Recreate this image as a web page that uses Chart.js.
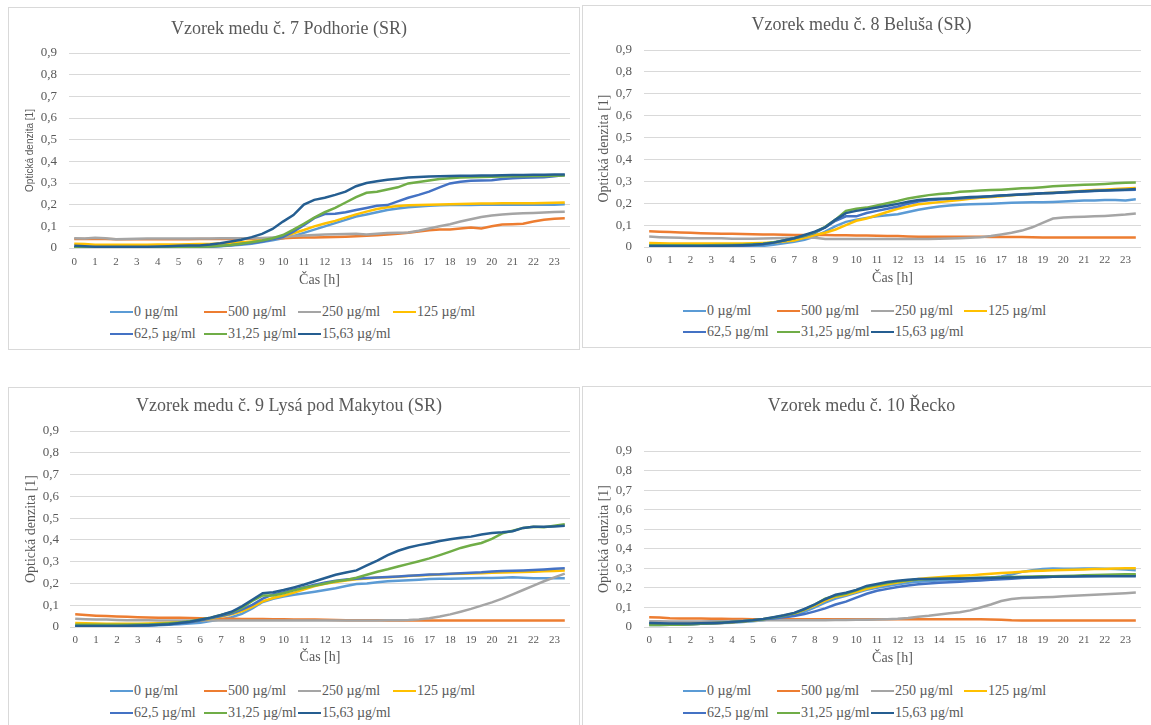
<!DOCTYPE html>
<html>
<head>
<meta charset="utf-8">
<script src="https://cdn.jsdelivr.net/npm/chart.js@4.4.1/dist/chart.umd.min.js"></script>
<style>
  body { margin: 0; background: #fff; width: 1151px; height: 725px; overflow: hidden; position: relative; font-family: "Liberation Serif", serif; }
  .box { position: absolute; border: 1px solid #d9d9d9; box-sizing: border-box; }
  canvas { position: absolute; }
  .lg { position: absolute; height: 16px; font-size: 14px; line-height: 16px; color: #595959; white-space: nowrap; }
  .lg i { position: absolute; left: 0; top: 7px; width: 23px; height: 2px; }
  .lg span { position: absolute; left: 24px; top: 0; }
</style>
</head>
<body>
<script>
// half-hourly readings, 0 .. 23.5 h
const hours = [0, 0.5, 1, 1.5, 2, 2.5, 3, 3.5, 4, 4.5, 5, 5.5, 6, 6.5, 7, 7.5,
  8, 8.5, 9, 9.5, 10, 10.5, 11, 11.5, 12, 12.5, 13, 13.5, 14, 14.5, 15, 15.5,
  16, 16.5, 17, 17.5, 18, 18.5, 19, 19.5, 20, 20.5, 21, 21.5, 22, 22.5, 23, 23.5];

const seriesNames = ["0 µg/ml", "500 µg/ml", "250 µg/ml", "125 µg/ml", "62,5 µg/ml", "31,25 µg/ml", "15,63 µg/ml"];
const seriesColors = ["#5B9BD5", "#ED7D31", "#A5A5A5", "#FFC000", "#4472C4", "#70AD47", "#255E91"];

// --- Vzorek 7 Podhorie
const med7_0 = [.005,.005,.004,.004,.004,.004,.004,.004, .004,.004,.004,.005,.005,.006,.008,.011,
  .015,.02,.028,.036,.045,.055,.07,.085, .1,.115,.13,.145,.155,.165,.175,.182,
  .188,.192,.195,.197,.198,.199,.199,.2, .2,.2,.2,.2,.2,.201,.2,.202];
const med7_500 = [.042,.042,.042,.041,.04,.04,.04,.04, .04,.04,.04,.04,.041,.041,.042,.042,
  .043,.043,.044,.045,.045,.047,.048,.048, .05,.051,.052,.054,.056,.059,.062,.066,
  .07,.076,.082,.085,.085,.09,.095,.09, .1,.108,.11,.112,.122,.13,.135,.137];
const med7_250 = [.045,.044,.047,.045,.04,.041,.043,.044, .044,.044,.044,.044,.044,.044,.045,.045,
  .045,.045,.046,.048,.05,.055,.058,.06, .062,.063,.065,.066,.062,.066,.069,.07,
  .072,.08,.09,.1,.11,.122,.133,.143, .15,.155,.158,.16,.162,.164,.166,.167];
const med7_125 = [.02,.018,.015,.015,.015,.015,.015,.015, .016,.016,.016,.017,.018,.019,.021,.023,
  .026,.03,.035,.042,.052,.068,.083,.1, .113,.125,.14,.155,.168,.18,.188,.194,
  .197,.199,.2,.201,.202,.203,.204,.205, .205,.206,.206,.207,.207,.208,.209,.21];
const med7_62 = [.004,.004,.004,.004,.004,.004,.004,.004, .004,.004,.005,.005,.006,.007,.009,.013,
  .018,.023,.03,.04,.05,.075,.105,.138, .157,.158,.165,.175,.185,.195,.198,.215,
  .232,.245,.26,.28,.298,.306,.31,.311, .313,.318,.322,.324,.325,.327,.331,.337];
const med7_31 = [.003,.003,.003,.003,.003,.003,.003,.003, .004,.004,.005,.005,.006,.007,.01,.014,
  .02,.027,.035,.045,.06,.085,.112,.14, .165,.185,.21,.235,.255,.26,.27,.28,
  .298,.305,.312,.318,.322,.325,.327,.328, .329,.33,.331,.331,.332,.332,.333,.335];
const med7_15 = [.01,.008,.006,.006,.006,.006,.006,.006, .007,.008,.01,.011,.012,.016,.022,.03,
  .038,.05,.065,.088,.122,.152,.2,.222, .232,.245,.26,.285,.3,.308,.315,.32,
  .325,.328,.33,.331,.332,.333,.334,.335, .335,.336,.337,.337,.338,.338,.339,.339];

// --- Vzorek 8 Beluša
const med8_0 = [.003,.003,.003,.003,.003,.003,.003,.003, .003,.003,.004,.005,.01,.017,.024,.033,
  .048,.07,.095,.115,.125,.133,.14,.145, .15,.16,.17,.178,.185,.19,.193,.195,
  .196,.198,.2,.202,.203,.204,.205,.206, .208,.21,.212,.213,.215,.215,.213,.218];
const med8_500 = [.072,.07,.068,.066,.065,.063,.062,.061, .06,.059,.058,.057,.057,.056,.055,.055,
  .055,.055,.054,.054,.053,.052,.051,.05, .05,.048,.047,.047,.047,.047,.047,.047,
  .047,.046,.046,.046,.046,.045,.043,.043, .043,.043,.043,.043,.043,.043,.043,.043];
const med8_250 = [.048,.045,.043,.042,.04,.04,.04,.04, .038,.038,.038,.039,.04,.041,.042,.042,
  .042,.037,.036,.036,.036,.036,.036,.036, .037,.037,.037,.037,.038,.039,.04,.042,
  .045,.05,.057,.065,.075,.09,.11,.13, .135,.137,.138,.14,.142,.145,.148,.153];
const med8_125 = [.018,.017,.016,.016,.016,.016,.016,.016, .016,.016,.017,.018,.02,.025,.03,.042,
  .055,.065,.08,.1,.12,.13,.145,.16, .175,.185,.195,.2,.205,.21,.215,.22,
  .225,.228,.232,.236,.24,.242,.245,.248, .25,.254,.257,.26,.262,.265,.267,.27];
const med8_62 = [.004,.004,.004,.004,.004,.004,.004,.005, .005,.006,.008,.012,.02,.03,.04,.05,
  .065,.09,.12,.14,.14,.155,.165,.175, .185,.198,.208,.213,.217,.22,.222,.225,
  .228,.232,.235,.238,.241,.243,.245,.247, .249,.251,.254,.256,.258,.259,.26,.262];
const med8_31 = [.008,.008,.008,.008,.008,.008,.008,.009, .009,.01,.012,.015,.022,.03,.04,.052,
  .068,.092,.125,.165,.175,.18,.19,.2, .21,.222,.23,.237,.242,.245,.252,.255,
  .258,.26,.262,.265,.268,.27,.273,.277, .28,.282,.284,.286,.288,.291,.293,.295];
const med8_15 = [.005,.005,.005,.005,.005,.005,.006,.006, .007,.008,.01,.014,.02,.03,.04,.055,
  .07,.09,.125,.155,.165,.172,.18,.188, .197,.207,.215,.218,.22,.222,.225,.228,
  .23,.232,.235,.237,.24,.242,.245,.247, .25,.252,.255,.257,.258,.26,.262,.265];

// --- Vzorek 9 Lysá pod Makytou
const med9_0 = [.005,.005,.005,.005,.005,.005,.005,.006, .008,.01,.013,.016,.02,.027,.035,.045,
  .06,.085,.115,.13,.14,.148,.155,.162, .17,.178,.188,.197,.2,.205,.21,.212,
  .215,.217,.22,.221,.222,.223,.224,.225, .225,.226,.228,.226,.224,.224,.224,.224];
const med9_500 = [.058,.055,.052,.05,.048,.047,.045,.044, .043,.043,.042,.041,.04,.039,.038,.038,
  .037,.037,.037,.036,.036,.035,.035,.035, .033,.032,.031,.031,.031,.031,.03,.03,
  .03,.03,.03,.03,.03,.03,.03,.03, .03,.03,.03,.03,.03,.03,.03,.03];
const med9_250 = [.038,.036,.035,.034,.032,.031,.031,.031, .03,.03,.03,.03,.03,.03,.03,.03,
  .03,.03,.03,.03,.03,.03,.03,.03, .03,.03,.03,.03,.03,.03,.031,.031,
  .032,.035,.04,.048,.058,.07,.083,.098, .113,.13,.15,.17,.19,.21,.228,.245];
const med9_125 = [.018,.017,.016,.015,.015,.015,.015,.016, .017,.019,.021,.024,.03,.038,.048,.058,
  .072,.092,.118,.133,.145,.158,.173,.188, .198,.207,.213,.219,.223,.227,.229,.231,
  .234,.237,.239,.241,.243,.244,.246,.247, .249,.25,.251,.252,.254,.256,.257,.26];
const med9_62 = [.005,.005,.005,.005,.005,.006,.007,.008, .01,.013,.017,.022,.03,.04,.05,.062,
  .08,.102,.13,.15,.16,.172,.183,.194, .204,.212,.218,.222,.225,.227,.23,.232,
  .235,.238,.241,.242,.245,.247,.249,.251, .255,.257,.258,.26,.262,.264,.267,.27];
const med9_31 = [.01,.01,.01,.01,.01,.01,.011,.012, .014,.017,.021,.026,.034,.043,.055,.068,
  .088,.12,.145,.145,.155,.168,.18,.19, .2,.21,.216,.226,.24,.254,.265,.278,
  .29,.302,.315,.33,.346,.363,.375,.386, .405,.43,.442,.455,.46,.458,.465,.472];
const med9_15 = [.005,.005,.005,.005,.005,.006,.007,.008, .01,.013,.018,.024,.033,.043,.055,.07,
  .095,.125,.155,.16,.17,.182,.195,.21, .225,.24,.25,.26,.283,.305,.33,.35,
  .365,.376,.385,.395,.403,.41,.415,.425, .432,.435,.44,.455,.46,.46,.462,.465];

// --- Vzorek 10 Řecko
const med10_0 = [.01,.01,.011,.012,.014,.016,.018,.02, .022,.026,.03,.035,.042,.05,.06,.078,
  .1,.125,.145,.16,.175,.19,.2,.21, .218,.226,.232,.235,.238,.24,.242,.245,
  .248,.252,.258,.268,.282,.29,.296,.299, .298,.298,.299,.299,.298,.296,.294,.29];
const med10_500 = [.05,.048,.045,.044,.043,.043,.042,.042, .041,.041,.04,.04,.04,.04,.04,.04,
  .04,.04,.04,.04,.04,.04,.04,.04, .04,.04,.04,.04,.039,.039,.039,.039,
  .039,.038,.037,.034,.033,.033,.033,.033, .033,.033,.033,.033,.033,.033,.033,.033];
const med10_250 = [.03,.029,.028,.028,.028,.028,.029,.03, .031,.032,.033,.034,.035,.035,.035,.035,
  .035,.035,.036,.036,.037,.037,.038,.04, .042,.046,.052,.057,.064,.07,.075,.085,
  .1,.115,.133,.143,.148,.15,.152,.154, .157,.16,.162,.165,.168,.17,.173,.177];
const med10_125 = [.015,.014,.014,.014,.015,.017,.019,.021, .024,.028,.033,.04,.048,.057,.068,.088,
  .11,.135,.155,.165,.18,.195,.208,.218, .228,.237,.245,.25,.255,.258,.262,.264,
  .268,.272,.276,.279,.283,.286,.288,.29, .292,.293,.294,.296,.297,.299,.3,.3];
const med10_62 = [.018,.015,.013,.013,.014,.016,.018,.021, .025,.03,.035,.039,.044,.05,.056,.066,
  .08,.095,.115,.13,.15,.17,.185,.195, .204,.212,.218,.222,.226,.229,.232,.235,
  .238,.241,.244,.247,.25,.253,.255,.257, .258,.259,.26,.261,.262,.262,.263,.263];
const med10_31 = [.01,.01,.011,.012,.014,.016,.019,.022, .025,.029,.034,.04,.049,.058,.07,.09,
  .115,.145,.16,.17,.188,.205,.215,.225, .233,.238,.243,.245,.247,.248,.249,.25,
  .252,.253,.255,.256,.257,.258,.259,.26, .261,.262,.264,.266,.267,.268,.27,.27];
const med10_15 = [.02,.019,.018,.018,.018,.019,.02,.022, .025,.029,.034,.041,.05,.06,.072,.092,
  .116,.142,.165,.175,.19,.21,.22,.23, .237,.242,.245,.246,.247,.248,.248,.249,
  .25,.251,.252,.253,.254,.255,.256,.257, .258,.258,.259,.259,.26,.26,.26,.26];

const TEXT = "#595959";
const SERIF = "'Liberation Serif', 'Times New Roman', serif";

const panels = [
  { title: "Vzorek medu č. 7 Podhorie (SR)", series: [med7_0, med7_500, med7_250, med7_125, med7_62, med7_31, med7_15],
    box: [8, 7, 572, 343], x: 8, y: 7, w: 572, h: 285, yW: 61, yPad: 12, tTop: 11.2, tBot: 13.2, xPad: 7.4, xtPad: 3.6,
    yFont: { family: "'Liberation Sans', Arial, sans-serif", size: 10 }, ytPad: 16,
    cols: [110, 204, 298, 393], rows: [312, 334] },
  { title: "Vzorek medu č. 8 Beluša (SR)", series: [med8_0, med8_500, med8_250, med8_125, med8_62, med8_31, med8_15],
    box: [582, 5, 580, 343], x: 582, y: 5, w: 569, h: 286, yW: 62, yPad: 12, tTop: 9.2, tBot: 14.2, xPad: 6.4, xtPad: 4.6,
    yFont: { family: SERIF, size: 14 }, ytPad: 13.6,
    cols: [683, 777, 871, 964], rows: [311, 332] },
  { title: "Vzorek medu č. 9 Lysá pod Makytou (SR)", series: [med9_0, med9_500, med9_250, med9_125, med9_62, med9_31, med9_15],
    box: [8, 387, 572, 400], x: 8, y: 387, w: 572, h: 284, yW: 62, yPad: 11, tTop: 8.2, tBot: 14.2, xPad: 6.4, xtPad: 5.6,
    yFont: { family: SERIF, size: 14 }, ytPad: 14.6,
    cols: [110, 204, 298, 393], rows: [691, 713] },
  { title: "Vzorek medu č. 10 Řecko", series: [med10_0, med10_500, med10_250, med10_125, med10_62, med10_31, med10_15],
    box: [582, 386, 580, 400], x: 582, y: 386, w: 569, h: 285, yW: 62, yPad: 12, tTop: 9.2, tBot: 34.2, xPad: 6.4, xtPad: 4.6,
    yFont: { family: SERIF, size: 14 }, ytPad: 13.6,
    cols: [683, 777, 871, 964], rows: [691, 713] },
];

function addLegend(p) {
  seriesNames.forEach((name, i) => {
    const el = document.createElement("div");
    el.className = "lg";
    el.style.left = p.cols[i % 4] + "px";
    el.style.top = (p.rows[Math.floor(i / 4)] - 8) + "px";
    el.innerHTML = '<i style="background:' + seriesColors[i] + '"></i><span>' + name + "</span>";
    document.body.appendChild(el);
  });
}

function makeChart(p) {
  const box = document.createElement("div");
  box.className = "box";
  box.style.left = p.box[0] + "px";
  box.style.top = p.box[1] + "px";
  box.style.width = p.box[2] + "px";
  box.style.height = p.box[3] + "px";
  document.body.appendChild(box);

  const canvas = document.createElement("canvas");
  canvas.width = p.w;
  canvas.height = p.h;
  canvas.style.left = p.x + "px";
  canvas.style.top = p.y + "px";
  document.body.appendChild(canvas);

  new Chart(canvas, {
    type: "line",
    data: {
      labels: hours,
      datasets: p.series.map((d, i) => ({
        label: seriesNames[i],
        data: d,
        borderColor: seriesColors[i],
        backgroundColor: seriesColors[i],
        borderWidth: 2.5,
        pointRadius: 0,
        tension: 0,
        order: 6 - i, // Excel draws the last series on top
      })),
    },
    options: {
      responsive: false,
      animation: false,
      layout: { padding: { left: 0, right: 10, top: 0, bottom: 0 } },
      plugins: {
        legend: { display: false },
        tooltip: { enabled: false },
        title: {
          display: true,
          text: p.title,
          color: TEXT,
          font: { family: SERIF, size: 18, weight: "normal" },
          padding: { top: p.tTop, bottom: p.tBot },
        },
      },
      scales: {
        x: {
          type: "category",
          offset: true,
          grid: { display: false, drawTicks: false },
          border: { display: false },
          ticks: {
            autoSkip: false,
            maxRotation: 0,
            padding: p.xPad,
            color: TEXT,
            font: { family: SERIF, size: 11 },
            callback: (v, i) => (hours[i] % 1 === 0 ? String(hours[i]) : ""),
          },
          title: {
            display: true,
            text: "Čas [h]",
            color: TEXT,
            font: { family: SERIF, size: 14 },
            padding: { top: 0, bottom: p.xtPad },
          },
          afterFit: (s) => { s.height = 44; },
        },
        y: {
          min: 0,
          max: 0.9,
          ticks: {
            stepSize: 0.1,
            padding: p.yPad,
            color: TEXT,
            font: { family: SERIF, size: 13 },
            callback: (v) => (v === 0 ? "0" : v.toFixed(1).replace(".", ",")),
          },
          grid: { color: "#d9d9d9", drawTicks: false },
          border: { display: false },
          title: {
            display: true,
            text: "Optická denzita [1]",
            color: TEXT,
            font: p.yFont,
            padding: { top: p.ytPad, bottom: 0 },
          },
          afterFit: (s) => { s.width = p.yW; },
        },
      },
    },
  });
  addLegend(p);
}

panels.forEach(makeChart);
</script>
</body>
</html>
